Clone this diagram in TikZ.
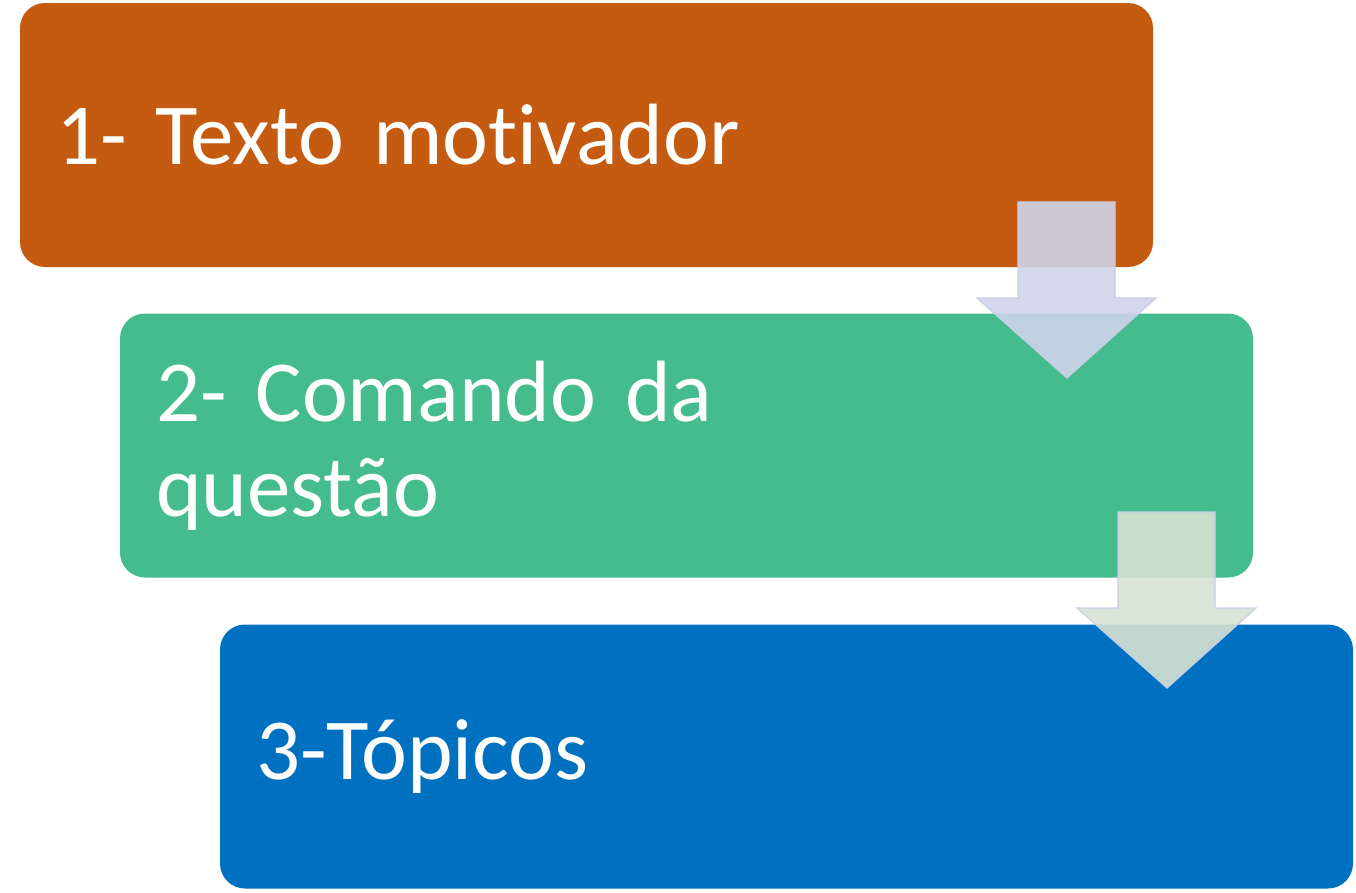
\documentclass[tikz,border=0pt]{standalone}
\usepackage{fontspec}
\setmainfont[Ligatures=NoCommon]{Carlito}
\definecolor{passo1}{RGB}{197,90,17}
\definecolor{passo2}{RGB}{69,188,141}
\definecolor{passo3}{RGB}{0,112,192}
\definecolor{seta1}{RGB}{208,212,232}
\definecolor{seta2}{RGB}{213,226,209}
\definecolor{borda}{RGB}{200,205,230}
\tikzset{
	passo/.style={rectangle, rounded corners=25pt, minimum width=1133pt, minimum height=264pt,
		text width=1061pt, align=left, inner sep=0pt, text=white,
		font=\fontsize{87}{95}\selectfont},
	seta/.style={draw=borda, line width=1.2pt, fill opacity=0.9}
}
\begin{document}
\begin{tikzpicture}[x=1pt,y=-1pt]
	\useasboundingbox (0,0) rectangle (1356,892);
	\node[passo, fill=passo1] (p1) at (586.5,135) {1- Texto motivador};
	\node[passo, fill=passo2] (p2) at (686.5,445.5) {2- Comando da\\questão};
	\node[passo, fill=passo3] (p3) at (786.5,756.5) {3-Tópicos};
	% setas
	\draw[seta, fill=seta1] (1018,202) -- (1115,202) -- (1115,298) -- (1156,298) -- (1067,378) -- (977,298) -- (1018,298) -- cycle;
	\draw[seta, fill=seta2] (1118,512) -- (1215,512) -- (1215,608) -- (1256,608) -- (1167,688) -- (1077,608) -- (1118,608) -- cycle;
\end{tikzpicture}
\end{document}
